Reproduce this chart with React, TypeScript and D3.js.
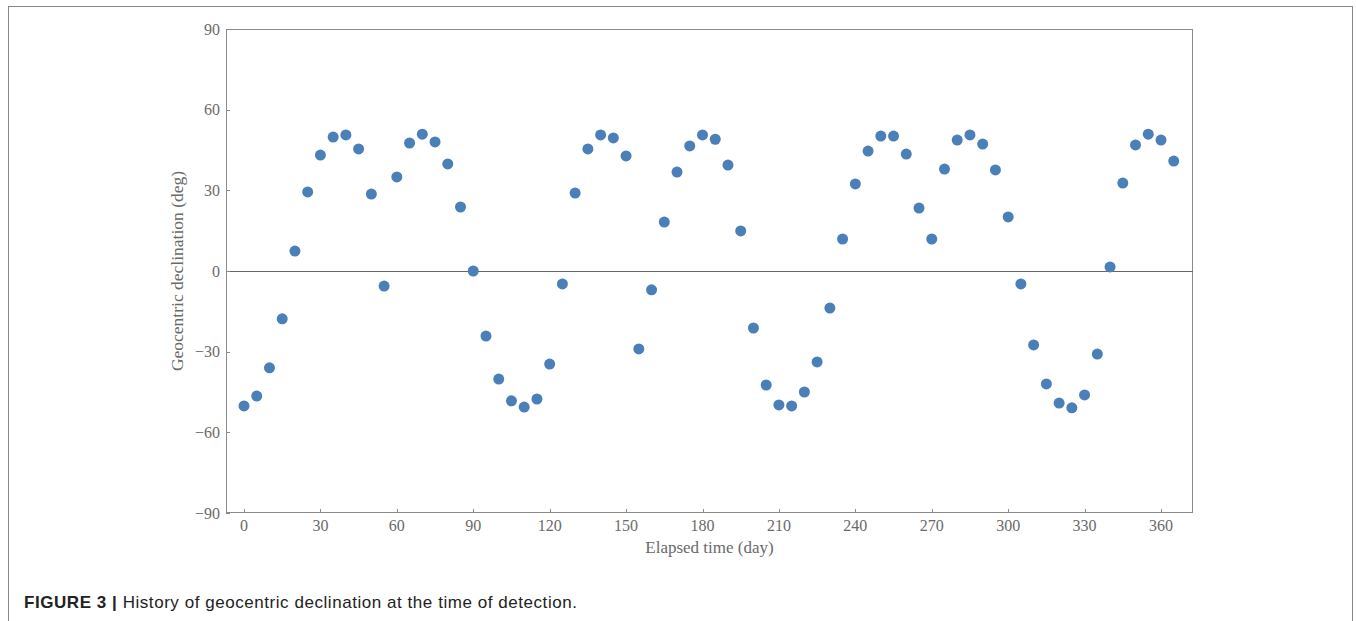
import React from "react";
import * as d3 from "d3";

const days = d3.range(0, 366, 5);
const declination = [
  -50.2, -46.5, -36, -17.8, 7.4, 29.4, 43.1, 49.8, 50.6, 45.4,
  28.6, -5.6, 35, 47.6, 50.9, 48, 39.8, 23.8, 0, -24.2,
  -40.2, -48.3, -50.6, -47.6, -34.6, -4.8, 29, 45.4, 50.6, 49.5,
  42.8, -29, -7, 18.2, 36.8, 46.5, 50.6, 49, 39.4, 14.9,
  -21.2, -42.4, -49.8, -50.2, -45, -33.8, -13.8, 11.9, 32.4, 44.6,
  50.2, 50.2, 43.5, 23.4, 11.9, 37.9, 48.7, 50.6, 47.2, 37.6,
  20.1, -4.8, -27.5, -42, -49.1, -50.9, -46.1, -30.9, 1.5, 32.7,
  46.9, 50.9, 48.7, 40.9,
];
const xTicks = [0, 30, 60, 90, 120, 150, 180, 210, 240, 270, 300, 330, 360];
const yTicks = [-90, -60, -30, 0, 30, 60, 90];
const xLabel = "Elapsed time (day)";
const yLabel = "Geocentric declination (deg)";
const captionBold = "FIGURE 3 |";
const captionText = " History of geocentric declination at the time of detection.";

export default function App() {
  const left = 226, right = 1193, top = 29, bottom = 513;
  const x = d3.scaleLinear().domain([0, 360]).range([244, 1161]);
  const y = d3.scaleLinear().domain([-90, 90]).range([bottom, top]);
  const axisColor = "#8a8a8a";
  const textColor = "#6a6a6a";
  const serif = "'Liberation Serif', 'DejaVu Serif', serif";
  return (
    <svg width={1356} height={621} style={{ position: "absolute", left: 0, top: 0 }}>
      <rect x={8.5} y={6.5} width={1344} height={620} fill="none" stroke="#888" strokeWidth={1} />
      <rect x={left + 0.5} y={top + 0.5} width={right - left - 1} height={bottom - top - 1} fill="none" stroke={axisColor} strokeWidth={1} />
      <line x1={left} x2={right} y1={Math.round(y(0)) + 0.5} y2={Math.round(y(0)) + 0.5} stroke="#666" strokeWidth={1} />
      {yTicks.map((t) => (
        <g key={"y" + t}>
          <line x1={left} x2={left + 4} y1={Math.round(y(t)) + 0.5} y2={Math.round(y(t)) + 0.5} stroke={axisColor} />
          <text x={left - 6} y={y(t)} dy="0.35em" textAnchor="end" fontFamily={serif} fontSize={16} fill={textColor}>
            {t < 0 ? "\u2212" + Math.abs(t) : t}
          </text>
        </g>
      ))}
      {xTicks.map((t) => (
        <g key={"x" + t}>
          <line x1={Math.round(x(t)) + 0.5} x2={Math.round(x(t)) + 0.5} y1={bottom} y2={bottom - 4} stroke={axisColor} />
          <text x={x(t)} y={531} textAnchor="middle" fontFamily={serif} fontSize={16} fill={textColor}>
            {t}
          </text>
        </g>
      ))}
      <text x={709.5} y={553} textAnchor="middle" fontFamily={serif} fontSize={17} fill={textColor}>
        {xLabel}
      </text>
      <text transform={`translate(183, ${(top + bottom) / 2}) rotate(-90)`} textAnchor="middle" fontFamily={serif} fontSize={17.5} fill={textColor}>
        {yLabel}
      </text>
      {days.map((d, i) => (
        <circle key={d} cx={x(d)} cy={y(declination[i])} r={5.5} fill="#4a7fb8" />
      ))}
      <text x={24} y={608} fontFamily="'Liberation Sans', Arial, sans-serif" fontSize={17} letterSpacing={0.55} fill="#222">
        <tspan fontWeight="bold">{captionBold}</tspan>
        <tspan>{captionText}</tspan>
      </text>
    </svg>
  );
}
